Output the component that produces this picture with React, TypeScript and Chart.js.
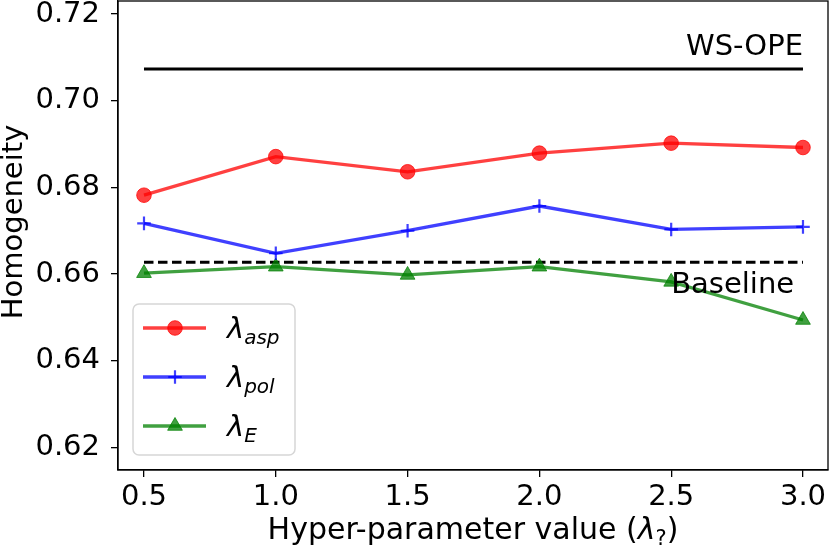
import React, { useEffect, useRef } from 'react';
import { Chart, registerables } from 'chart.js';
import { drawPoint } from 'chart.js/helpers';

Chart.register(...registerables);

// values
const lambdas = [0.5, 1.0, 1.5, 2.0, 2.5, 3.0];
const aspValues = [0.6782, 0.6871, 0.6836, 0.6879, 0.6902, 0.6892];
const polValues = [0.6717, 0.6648, 0.67, 0.6757, 0.6703, 0.6709];
const eValues = [0.6602, 0.6617, 0.6598, 0.6617, 0.6582, 0.6494];
const wsOpeValue = 0.7073;
const baselineValue = 0.6627;
const refRange = [0.5, 3.0];
const xTicks = [0.5, 1.0, 1.5, 2.0, 2.5, 3.0];
const yTicks = [0.62, 0.64, 0.66, 0.68, 0.7, 0.72];
const legendSubs = ['asp', 'pol', 'E'];

const FAMILY = '"DejaVu Sans", sans-serif';
const FS = 29;

const toPoints = (ys: number[]) => lambdas.map((x, i) => ({ x, y: ys[i] }));

const decorPlugin = {
  id: 'decor',
  afterDraw(chart: any) {
    const { ctx, chartArea: a } = chart;
    const xs = chart.scales.x;
    const ys = chart.scales.y;
    ctx.save();

    // spines on all four sides
    ctx.strokeStyle = '#000';
    ctx.lineWidth = 1.3;
    ctx.strokeRect(a.left, a.top, a.right - a.left, a.bottom - a.top);

    // line annotations
    ctx.fillStyle = '#000';
    ctx.font = `${FS}px ${FAMILY}`;
    ctx.textBaseline = 'alphabetic';
    ctx.textAlign = 'right';
    ctx.fillText('WS-OPE', xs.getPixelForValue(3.0), ys.getPixelForValue(0.7105));
    ctx.textAlign = 'left';
    ctx.fillText('Baseline', xs.getPixelForValue(2.5), ys.getPixelForValue(0.6556));

    // y axis title
    ctx.save();
    ctx.translate(14, 222);
    ctx.rotate(-Math.PI / 2);
    ctx.textAlign = 'center';
    ctx.textBaseline = 'middle';
    ctx.font = `${FS}px ${FAMILY}`;
    ctx.fillText('Homogeneity', 0, 0);
    ctx.restore();

    // x axis title with lambda and subscript
    const parts = [
      { t: 'Hyper-parameter value (', f: `30px ${FAMILY}`, dy: 0 },
      { t: 'λ', f: `italic 30px ${FAMILY}`, dy: 0 },
      { t: '?', f: `21px ${FAMILY}`, dy: 6 },
      { t: ')', f: `30px ${FAMILY}`, dy: 0 },
    ];
    let total = 0;
    parts.forEach((p) => {
      ctx.font = p.f;
      total += ctx.measureText(p.t).width;
    });
    let tx = (a.left + a.right) / 2 - total / 2;
    const ty = 539;
    ctx.textAlign = 'left';
    ctx.textBaseline = 'alphabetic';
    parts.forEach((p) => {
      ctx.font = p.f;
      ctx.fillText(p.t, tx, ty + p.dy);
      tx += ctx.measureText(p.t).width;
    });

    // legend box, lower left
    const bw = 162;
    const bh = 151;
    const bx = a.left + 15;
    const by = a.bottom - 15 - bh;
    ctx.beginPath();
    ctx.roundRect(bx, by, bw, bh, 6);
    ctx.fillStyle = 'rgba(255,255,255,0.8)';
    ctx.fill();
    ctx.strokeStyle = '#d6d6d6';
    ctx.lineWidth = 1.5;
    ctx.stroke();

    chart.data.datasets.slice(0, 3).forEach((ds: any, i: number) => {
      const cy = by + 24 + i * 49;
      ctx.beginPath();
      ctx.moveTo(bx + 10, cy);
      ctx.lineTo(bx + 73, cy);
      ctx.strokeStyle = ds.borderColor;
      ctx.lineWidth = ds.borderWidth;
      ctx.stroke();
      ctx.fillStyle = ds.pointBackgroundColor;
      ctx.strokeStyle = ds.pointBorderColor;
      ctx.lineWidth = ds.pointBorderWidth;
      drawPoint(
        ctx,
        { pointStyle: ds.pointStyle, radius: ds.pointRadius, borderWidth: ds.pointBorderWidth, rotation: 0 },
        bx + 42,
        cy
      );
      ctx.fillStyle = '#000';
      ctx.font = `italic ${FS}px ${FAMILY}`;
      ctx.textAlign = 'left';
      ctx.fillText('λ', bx + 94, cy + 10);
      const lw = ctx.measureText('λ').width;
      ctx.font = `italic 20px ${FAMILY}`;
      ctx.fillText(legendSubs[i], bx + 94 + lw, cy + 16);
    });

    ctx.restore();
  },
};

const App: React.FC = () => {
  const canvasRef = useRef<HTMLCanvasElement | null>(null);

  useEffect(() => {
    if (!canvasRef.current) return;

    const chart = new Chart(canvasRef.current, {
      type: 'line',
      data: {
        datasets: [
          {
            data: toPoints(aspValues),
            borderColor: 'rgba(255,0,0,0.75)',
            borderWidth: 3.3,
            pointStyle: 'circle',
            pointRadius: 7.3,
            pointBackgroundColor: 'rgba(255,0,0,0.75)',
            pointBorderColor: 'rgba(255,0,0,0.75)',
            pointBorderWidth: 1,
          },
          {
            data: toPoints(polValues),
            borderColor: 'rgba(0,0,255,0.75)',
            borderWidth: 3.3,
            pointStyle: 'cross',
            pointRadius: 6.8,
            pointBackgroundColor: 'rgba(0,0,255,0.75)',
            pointBorderColor: 'rgba(0,0,255,0.75)',
            pointBorderWidth: 2.2,
          },
          {
            data: toPoints(eValues),
            borderColor: 'rgba(0,128,0,0.75)',
            borderWidth: 3.3,
            pointStyle: 'triangle',
            pointRadius: 8.5,
            pointBackgroundColor: 'rgba(0,128,0,0.75)',
            pointBorderColor: 'rgba(0,128,0,0.75)',
            pointBorderWidth: 1,
          },
          {
            data: refRange.map((x) => ({ x, y: wsOpeValue })),
            borderColor: '#000',
            borderWidth: 3,
            pointRadius: 0,
          },
          {
            data: refRange.map((x) => ({ x, y: baselineValue })),
            borderColor: '#000',
            borderWidth: 3,
            borderDash: [9.5, 4.5],
            pointRadius: 0,
          },
        ],
      },
      options: {
        animation: false,
        responsive: true,
        maintainAspectRatio: false,
        layout: { autoPadding: false, padding: { top: 1, right: 1, left: 0, bottom: 0 } },
        plugins: {
          legend: { display: false },
          tooltip: { enabled: false },
        },
        scales: {
          x: {
            type: 'linear',
            min: 0.4014,
            max: 3.0949,
            afterBuildTicks: (scale: any) => {
              scale.ticks = xTicks.map((value) => ({ value }));
            },
            afterFit: (scale: any) => {
              scale.height = 83;
              scale.paddingLeft = 0;
              scale.paddingRight = 0;
            },
            ticks: {
              color: '#000',
              font: { size: FS, family: FAMILY },
              padding: 3,
              maxRotation: 0,
              callback: (v: any) => Number(v).toFixed(1),
            },
            grid: {
              drawOnChartArea: false,
              drawTicks: true,
              tickLength: 7,
              color: '#000',
              lineWidth: 1.3,
            },
            border: { display: true, color: '#000', width: 1.3 },
          },
          y: {
            type: 'linear',
            min: 0.6148,
            max: 0.723,
            afterBuildTicks: (scale: any) => {
              scale.ticks = yTicks.map((value) => ({ value }));
            },
            afterFit: (scale: any) => {
              scale.width = 118;
              scale.paddingTop = 0;
              scale.paddingBottom = 0;
            },
            ticks: {
              color: '#000',
              font: { size: FS, family: FAMILY },
              padding: 11,
              callback: (v: any) => Number(v).toFixed(2),
            },
            grid: {
              drawOnChartArea: false,
              drawTicks: true,
              tickLength: 7,
              color: '#000',
              lineWidth: 1.3,
            },
            border: { display: true, color: '#000', width: 1.3 },
          },
        },
      },
      plugins: [decorPlugin],
    });

    return () => {
      chart.destroy();
    };
  }, []);

  return (
    <div style={{ position: 'absolute', left: 0, top: 0, width: 829, height: 553, background: '#fff' }}>
      <canvas ref={canvasRef} />
    </div>
  );
};

export default App;
